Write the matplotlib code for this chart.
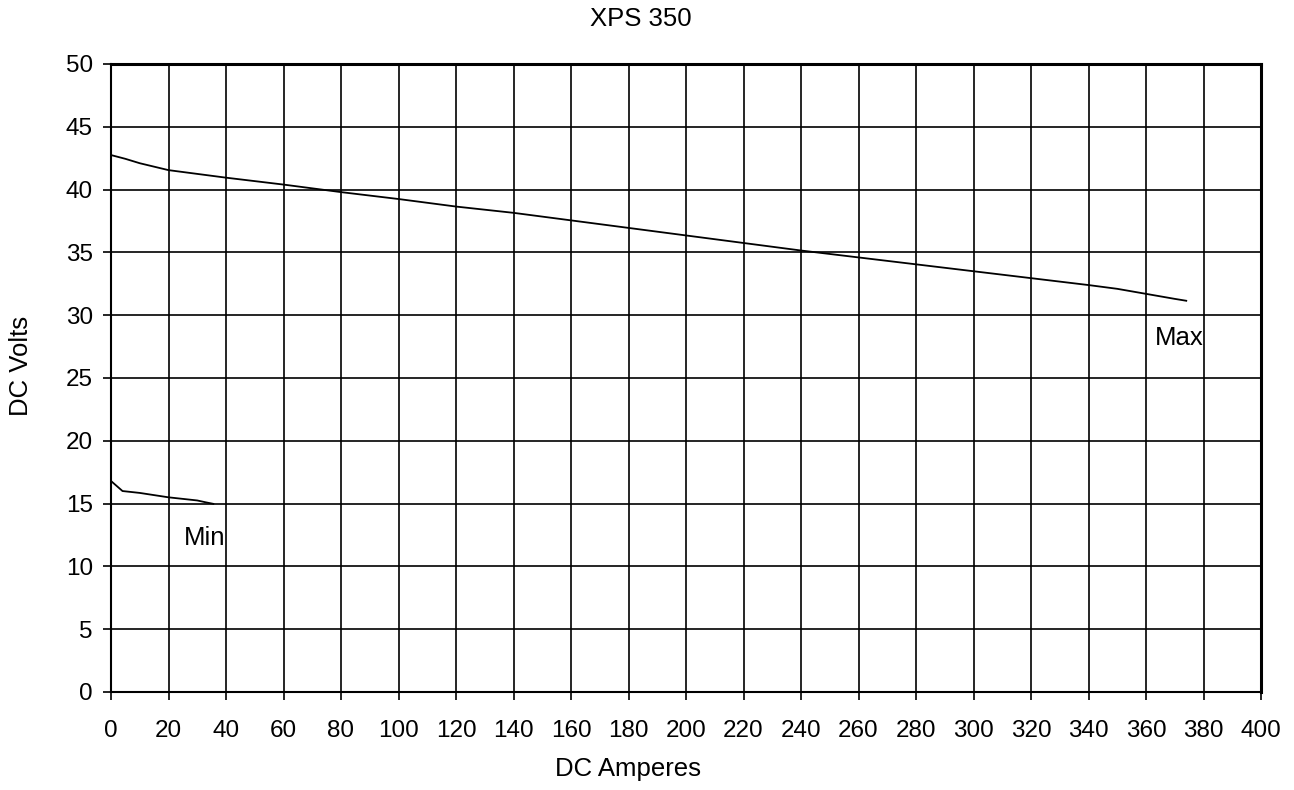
import matplotlib.pyplot as plt

plt.rcParams.update({
    "font.family": ["Liberation Sans", "DejaVu Sans"],
    "font.size": 18.5,
})

# curva Max (tensão de saída a plena regulação)
max_amps = [0, 5, 10, 20, 40, 60, 80, 100, 120, 140, 160, 180, 200, 220, 240, 260,
            280, 300, 320, 340, 350, 360, 370, 374]
max_volts = [42.75, 42.45, 42.1, 41.55, 40.95, 40.4, 39.8, 39.25, 38.65, 38.15, 37.55,
             36.95, 36.35, 35.75, 35.15, 34.6, 34.05, 33.5, 32.95, 32.4, 32.1, 31.7,
             31.3, 31.15]

# curva Min
min_amps = [0, 4, 10, 20, 30, 33, 35.6]
min_volts = [16.8, 16.0, 15.85, 15.5, 15.25, 15.1, 14.98]

x_ticks = list(range(0, 401, 20))
y_ticks = list(range(0, 51, 5))

W, H = 1294, 790
fig = plt.figure(figsize=(W / 100, H / 100), dpi=100)
ax = fig.add_axes([111 / W, 1 - 692 / H, 1150 / W, 628 / H])

ax.plot(max_amps, max_volts, color="black", linewidth=1.3)
ax.plot(min_amps, min_volts, color="black", linewidth=1.3)

ax.text(371.5, 28.2, "Max", ha="center", va="center")
ax.text(32.5, 12.3, "Min", ha="center", va="center")

ax.set_xlim(0, 400)
ax.set_ylim(0, 50)
ax.set_xticks(x_ticks)
ax.set_yticks(y_ticks)
ax.grid(True, color="black", linewidth=1.2)
ax.tick_params(direction="out", length=6, width=1.2, labelsize=17.5)
ax.tick_params(axis="x", pad=14)
ax.tick_params(axis="y", pad=7)
for side in ["left", "bottom"]:
    ax.spines[side].set_linewidth(1.5)
for side in ["top", "right"]:
    ax.spines[side].set_linewidth(2.2)

# títulos posicionados como no original (não centrados no eixo)
fig.text(641 / W, 1 - 19 / H, "XPS 350", ha="center", va="center")
fig.text(628 / W, 1 - 769 / H, "DC Amperes", ha="center", va="center")
fig.text(21 / W, 1 - 366 / H, "DC Volts", ha="center", va="center", rotation=90)

fig.savefig("out.png", dpi=100)
